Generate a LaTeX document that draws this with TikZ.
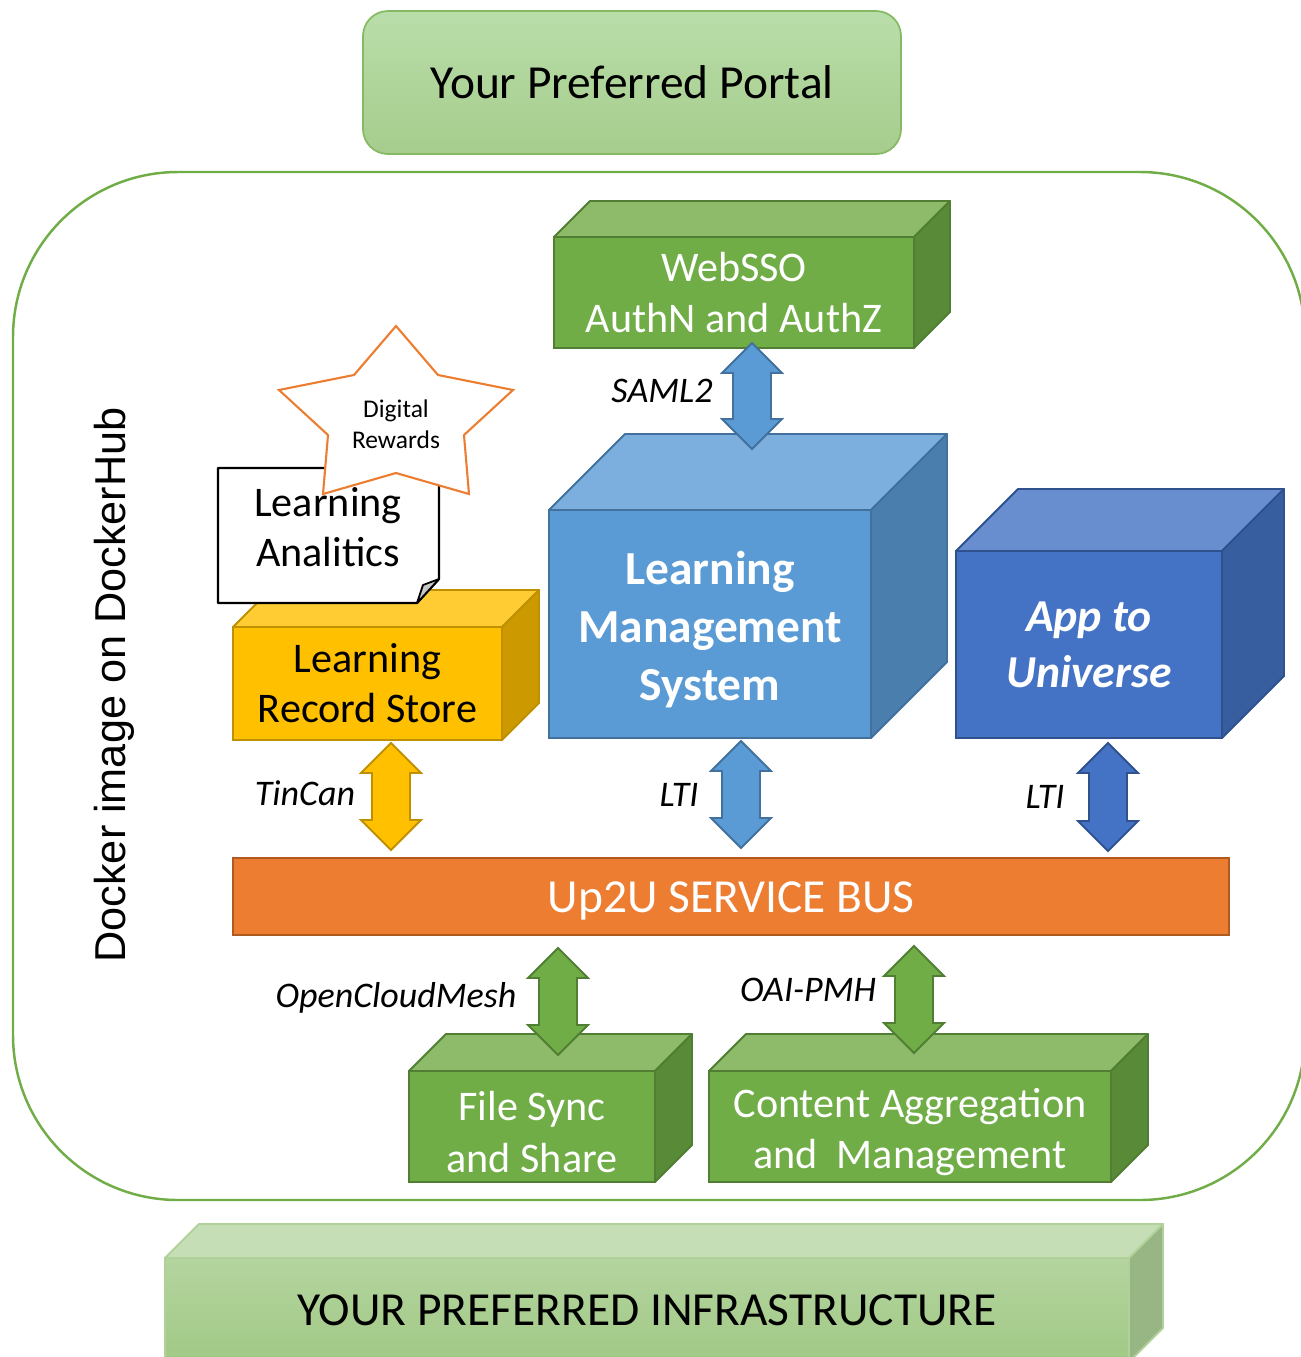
\documentclass[tikz,border=0pt]{standalone}
\usepackage{fontspec}
\setmainfont{Carlito}
\newfontfamily\arialfont{Liberation Sans}
\usetikzlibrary{calc}

\definecolor{grfront}{HTML}{70AD47}
\definecolor{grtop}{HTML}{8DBB69}
\definecolor{grside}{HTML}{598A38}
\definecolor{grline}{HTML}{507E32}
\definecolor{lmsfront}{HTML}{5B9BD5}
\definecolor{lmstop}{HTML}{7CAFDD}
\definecolor{lmsside}{HTML}{4A7EAD}
\definecolor{lmsline}{HTML}{41719C}
\definecolor{appfront}{HTML}{4472C4}
\definecolor{apptop}{HTML}{698ED0}
\definecolor{appside}{HTML}{375F9F}
\definecolor{appline}{HTML}{2F528F}
\definecolor{lrsfront}{HTML}{FFC000}
\definecolor{lrstop}{HTML}{FFCD33}
\definecolor{lrsside}{HTML}{CC9A00}
\definecolor{lrsline}{HTML}{BF9000}
\definecolor{busfill}{HTML}{ED7D31}
\definecolor{busline}{HTML}{AE5A21}
\definecolor{starline}{HTML}{ED7D31}
\definecolor{foldgrey}{HTML}{C8C8C8}

\newcommand{\pxl}{0.02cm}

% top and right faces of a box, #1 front node, #2 depth
\newcommand{\boxfaces}[5]{%
  \draw[draw=#5, fill=#3, line width=1.1pt, line join=round]
    (#1.north west) -- ++(#2,-#2) -- ($(#1.north east)+(#2,-#2)$) -- (#1.north east) -- cycle;
  \draw[draw=#5, fill=#4, line width=1.1pt, line join=round]
    (#1.north east) -- ($(#1.north east)+(#2,-#2)$) -- ($(#1.south east)+(#2,-#2)$) -- (#1.south east) -- cycle;
}

% vertical double block arrow from #1 (top) to #2 (bottom)
\newcommand{\blockarrow}[4]{%
  \draw[fill=#3, draw=#4, line width=1.1pt]
    (#1) -- ($(#1)+(30,30)$) -- ($(#1)+(19,30)$) -- ($(#2)+(19,-30)$) -- ($(#2)+(30,-30)$)
    -- (#2) -- ($(#2)+(-30,-30)$) -- ($(#2)+(-19,-30)$) -- ($(#1)+(-19,30)$) -- ($(#1)+(-30,30)$) -- cycle;
}

\begin{document}
\begin{tikzpicture}[x=\pxl, y=-\pxl,
    face/.style={line width=1.1pt, inner sep=0pt, outer sep=0pt, align=center, text=white,
      font=\fontsize{24}{29.5}\selectfont},
    proto/.style={font=\itshape\fontsize{20.5}{24}\selectfont}]
  \useasboundingbox (0,0) rectangle (1301,1357);
  \clip (0,0) rectangle (1301,1357);

  % container
  \draw[draw=grfront, line width=1.4pt, rounded corners=165*\pxl] (13,172) rectangle (1305,1200);
  \node[rotate=90, font=\arialfont\fontsize{24.6}{28}\selectfont] (docker) at (114,685) {Docker image on DockerHub};

  % portal
  \node[draw=grfront!85!white, line width=1pt, rounded corners=25*\pxl,
        top color=green!10!grfront!45!white, bottom color=grfront!62!white,
        minimum width=538*\pxl, minimum height=143*\pxl,
        font=\fontsize{27}{30}\selectfont] (portal) at (632,82.5) {Your Preferred Portal};

  % infrastructure
  \node[face, draw=grfront!55!white, top color=grfront!52!white, bottom color=grfront!66!white,
        text=black, minimum width=964*\pxl, minimum height=104*\pxl,
        font=\fontsize{27}{30}\selectfont] (infra) at (647,1310) {YOUR PREFERRED INFRASTRUCTURE};
  \boxfaces{infra}{34}{grfront!40!white}{grside!62!white}{grfront!55!white}

  % websso
  \node[face, fill=grfront, draw=grline, minimum width=360*\pxl, minimum height=111*\pxl] (websso) at (734,292.5) {WebSSO\\AuthN and AuthZ};
  \boxfaces{websso}{36}{grtop}{grside}{grline}

  % lms
  \node[face, fill=lmsfront, draw=lmsline, minimum width=322*\pxl, minimum height=228*\pxl,
        font=\bfseries\fontsize{27}{33}\selectfont] (lms) at (710,624) {\rule{0pt}{0.95em}Learning\\Management\\System};
  \boxfaces{lms}{76}{lmstop}{lmsside}{lmsline}

  % app to universe
  \node[face, fill=appfront, draw=appline, minimum width=266*\pxl, minimum height=187*\pxl,
        font=\bfseries\itshape\fontsize{26}{32}\selectfont] (app) at (1089,644.5) {App to\\Universe};
  \boxfaces{app}{62}{apptop}{appside}{appline}

  % lrs
  \node[face, fill=lrsfront, draw=lrsline, text=black, minimum width=269*\pxl, minimum height=113*\pxl,
        font=\fontsize{24}{28.5}\selectfont] (lrs) at (367.5,683.5) {Learning\\Record Store};
  \boxfaces{lrs}{37}{lrstop}{lrsside}{lrsline}

  % analytics note
  \draw[fill=white, line width=1.3pt, line join=round] (218,468) -- (439,468) -- (439,579) -- (417,603) -- (218,603) -- cycle;
  \draw[fill=foldgrey, line width=1pt, line join=round] (417,603) -- (423,585) -- (439,579) -- cycle;
  \node[align=center, font=\fontsize{24}{28.5}\selectfont] (analytics) at (328,527) {Learning\\Analitics};

  % rewards star
  \draw[draw=starline, fill=white, line width=1.2pt, line join=miter]
    (396,326) -- (438,375) -- (513,390) -- (464,435) -- (469,494) -- (396,473)
    -- (323,494) -- (328,435) -- (279,390) -- (354,375) -- cycle;
  \node[align=center, font=\fontsize{14.5}{17.6}\selectfont] (rewards) at (396,424.5) {Digital\\Rewards};

  % service bus
  \node[face, fill=busfill, draw=busline, minimum width=996*\pxl, minimum height=77*\pxl,
        font=\fontsize{27}{30}\selectfont] (bus) at (731,896.5) {\rule{0pt}{0.85em}Up2U SERVICE BUS};

  % file sync and content aggregation
  \node[face, fill=grfront, draw=grline, minimum width=246*\pxl, minimum height=111*\pxl] (fss) at (532,1126.5) {\rule{0pt}{0.95em}File Sync\\and Share};
  \boxfaces{fss}{37}{grtop}{grside}{grline}
  \node[face, fill=grfront, draw=grline, minimum width=402*\pxl, minimum height=111*\pxl] (cam) at (910,1126.5) {\rule{0pt}{0.95em}Content Aggregation\\and\ \ Management};
  \boxfaces{cam}{37}{grtop}{grside}{grline}

  % protocol arrows
  \coordinate (saml-a) at (752,343);
  \coordinate (saml-b) at (752,449);
  \blockarrow{saml-a}{saml-b}{lmsfront}{lmsline}
  \coordinate (tincan-a) at (391,743);
  \coordinate (tincan-b) at (391,850);
  \blockarrow{tincan-a}{tincan-b}{lrsfront}{lrsline}
  \coordinate (lti-a) at (741,741);
  \coordinate (lti-b) at (741,848);
  \blockarrow{lti-a}{lti-b}{lmsfront}{lmsline}
  \coordinate (ltiapp-a) at (1108,743);
  \coordinate (ltiapp-b) at (1108,851);
  \blockarrow{ltiapp-a}{ltiapp-b}{appfront}{appline}
  \coordinate (ocm-a) at (558,948);
  \coordinate (ocm-b) at (558,1055);
  \blockarrow{ocm-a}{ocm-b}{grfront}{grline}
  \coordinate (oai-a) at (914,946);
  \coordinate (oai-b) at (914,1053);
  \blockarrow{oai-a}{oai-b}{grfront}{grline}

  \node[proto] (samllabel) at (662,391) {SAML2};
  \node[proto] (tincanlabel) at (305,793) {TinCan};
  \node[proto] (ltilabel) at (679,795) {LTI};
  \node[proto] (ltiapplabel) at (1045,797) {LTI};
  \node[proto] (ocmlabel) at (396,998) {OpenCloudMesh};
  \node[proto] (oailabel) at (808,990) {OAI-PMH};
\end{tikzpicture}
\end{document}
